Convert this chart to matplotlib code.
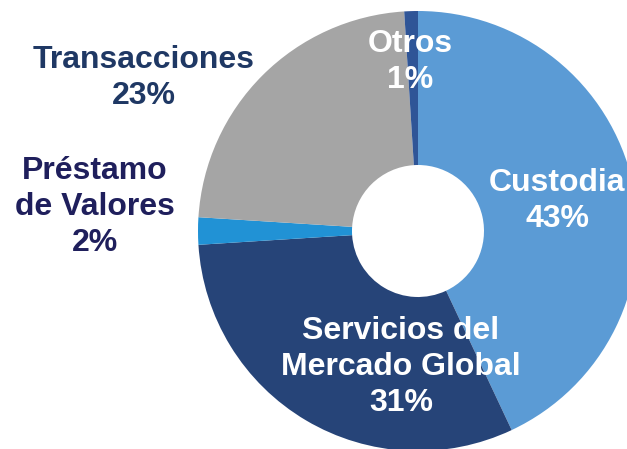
"""Donut chart: revenue mix by business line."""

import matplotlib
matplotlib.use("Agg")
import matplotlib.pyplot as plt

categories = ["Custodia", "Servicios del\nMercado Global", "Préstamo\nde Valores",
              "Transacciones", "Otros"]
shares = [43, 31, 2, 23, 1]

colors = ["#5B9BD5", "#264478", "#2192D5", "#A5A5A5", "#2F5597"]
# label centre in pixels (x, y from top), colour
label_pos = [(557, 201), (401, 367), (95, 207), (144, 78), (410, 62)]
label_colors = ["white", "white", "#1F1F5C", "#1F3864", "white"]

W, H = 627, 449
cx, cy, R = 418, 231, 220

plt.rcParams["font.family"] = ["Liberation Sans", "DejaVu Sans"]

fig = plt.figure(figsize=(W / 100, H / 100), dpi=100)
ax = fig.add_axes([(cx - R) / W, (H - cy - R) / H, 2 * R / W, 2 * R / H])
ax.pie(
    shares,
    colors=colors,
    startangle=90,
    counterclock=False,
    radius=1.0,
    wedgeprops=dict(width=1 - 66 / R, edgecolor="none"),
)
ax.set_xlim(-1, 1)
ax.set_ylim(-1, 1)
ax.set_aspect("equal")

for name, val, (px, py), c in zip(categories, shares, label_pos, label_colors):
    fig.text(px / W, 1 - py / H, f"{name}\n{val}%", ha="center", va="center",
             fontsize=23, fontweight="bold", color=c, linespacing=1.27)

fig.savefig("out.png", dpi=100)
